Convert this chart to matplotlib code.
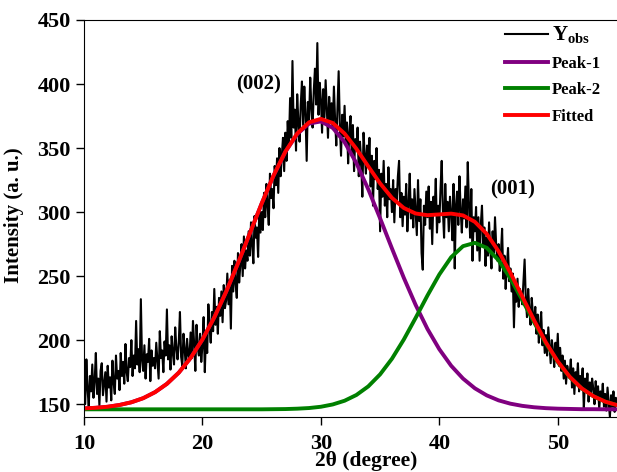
import numpy as np
import matplotlib
matplotlib.use("Agg")
from matplotlib import pyplot as plt

plt.rcParams['font.family'] = ['Liberation Serif', 'DejaVu Serif']
plt.rcParams['font.weight'] = 'bold'
plt.rcParams['mathtext.fontset'] = 'custom'
plt.rcParams['mathtext.rm'] = 'Liberation Serif:bold'
plt.rcParams['mathtext.bf'] = 'Liberation Serif:bold'

# observed pattern, 10.0 .. 55.0 step 0.1
obs_start, obs_step = 10.0, 0.1
y_obs = [
    178, 150, 185, 162, 148, 172, 160, 181, 155, 168,
    190, 158, 170, 149, 176, 182, 157, 166, 175, 152,
    180, 163, 171, 153, 184, 167, 158, 188, 170, 176,
    161, 190, 172, 183, 166, 197, 175, 168, 186, 179,
    200, 172, 188, 178, 215, 181, 193, 175, 232, 184,
    176, 196, 170, 189, 183, 201, 168, 192, 180, 186,
    178, 198, 184, 170, 207, 186, 192, 175, 199, 188,
    224, 185, 196, 177, 203, 190, 181, 210, 194, 185,
    198, 222, 187, 180, 205, 193, 178, 201, 189, 184,
    206, 186, 215, 197, 176, 212, 194, 188, 205, 183,
    196, 218, 175, 205, 190, 228, 210, 198, 222, 207,
    240, 212, 226, 205, 233, 219, 238, 214, 243, 225,
    231, 252, 228, 247, 209, 258, 238, 262, 244, 233,
    268, 245, 259, 275, 250, 281, 256, 270, 262, 285,
    266, 292, 274, 260, 297, 280, 288, 265, 302, 284,
    300, 286, 315, 296, 322, 305, 290, 330, 311, 318,
    303, 336, 321, 342, 315, 350, 328, 344, 358, 332,
    362, 340, 371, 352, 389, 358, 418, 366, 380, 348,
    392, 370, 355, 384, 402, 368, 398, 377, 340, 386,
    372, 405, 381, 366, 395, 412, 384, 432, 376, 401,
    388, 362, 396, 374, 403, 380, 358, 390, 371, 385,
    365, 398, 372, 352, 380, 410, 368, 344, 376, 359,
    383, 355, 370, 338, 362, 375, 346, 368, 332, 357,
    349, 366, 328, 355, 340, 312, 362, 345, 330, 352,
    336, 358, 320, 344, 305, 340, 326, 350, 318, 333,
    285, 330, 312, 340, 305, 322, 296, 335, 310, 318,
    300, 325, 292, 318, 308, 328, 340, 296, 315, 289,
    312, 298, 322, 285, 306, 330, 295, 310, 288, 318,
    300, 282, 325, 293, 310, 268, 255, 305, 290, 316,
    296, 320, 287, 308, 275, 312, 300, 326, 284, 305,
    292, 318, 340, 301, 280, 322, 296, 308, 285, 312,
    300, 278, 322, 256, 305, 316, 290, 328, 302, 284,
    310, 295, 320, 288, 339, 306, 280, 318, 262, 296,
    285, 304, 270, 296, 262, 290, 305, 275, 288, 258,
    280, 266, 292, 272, 256, 285, 268, 296, 274, 262,
    275, 254, 268, 287, 248, 266, 240, 258, 272, 246,
    256, 238, 252, 210, 244, 230, 248, 226, 240, 236,
    228, 245, 263, 232, 218, 240, 224, 212, 233, 220,
    214, 226, 205, 220, 198, 212, 222, 196, 208, 190,
    204, 188, 210, 196, 182, 200, 192, 179, 198, 186,
    205, 180, 194, 176, 188, 170, 184, 166, 180, 174,
    172, 185, 163, 178, 158, 175, 168, 182, 160, 172,
    165, 178, 146, 170, 160, 174, 152, 167, 158, 170,
    162, 150, 168, 155, 164, 146, 160, 153, 166, 148,
    158, 145, 163, 152, 140, 157, 148, 160, 144, 155,
    150,
]

# fitted components, 10 .. 55 step 1
fit_x = list(range(10, 56))
peak_1 = [146.7, 147.2, 148.0, 149.4, 151.5, 154.7, 159.4, 165.9, 174.6, 186.1,
          200.5, 217.8, 237.8, 260.0, 283.4, 306.7, 328.4, 347.0, 360.9, 369.1,
          370.8, 365.8, 354.6, 338.2, 317.8, 295.1, 271.6, 248.7, 227.5, 208.7,
          192.9, 180.0, 170.0, 162.4, 156.9, 153.0, 150.4, 148.7, 147.6, 146.9,
          146.5, 146.3, 146.1, 146.1, 146.0, 146.0]
peak_2 = [146.0, 146.0, 146.0, 146.0, 146.0, 146.0, 146.0, 146.0, 146.0, 146.0,
          146.0, 146.0, 146.0, 146.0, 146.0, 146.0, 146.1, 146.2, 146.5, 147.0,
          148.0, 149.8, 152.7, 157.2, 163.9, 173.3, 185.5, 200.5, 217.4, 234.9,
          251.3, 264.8, 273.4, 276.0, 272.1, 262.4, 248.2, 231.4, 213.9, 197.3,
          182.9, 171.2, 162.4, 156.2, 152.0, 149.3]
fitted = [146.7, 147.2, 148.0, 149.4, 151.5, 154.7, 159.4, 165.9, 174.6, 186.1,
          200.5, 217.8, 237.8, 260.0, 283.4, 306.7, 328.5, 347.2, 361.4, 370.1,
          372.8, 369.6, 361.3, 349.4, 335.7, 322.4, 311.1, 303.2, 298.9, 297.6,
          298.2, 298.8, 297.4, 292.4, 283.0, 269.4, 252.6, 234.1, 215.5, 198.2,
          183.4, 171.5, 162.5, 156.3, 152.0, 149.3]

x_ticks = [10, 20, 30, 40, 50]
y_ticks = [150, 200, 250, 300, 350, 400, 450]

obs_x = obs_start + obs_step * np.arange(len(y_obs))

fig = plt.figure(figsize=(6.17, 4.72), dpi=100)
ax = fig.add_axes([84 / 617, 1 - 417 / 472, 533 / 617, 397 / 472])

ax.plot(obs_x, y_obs, color='black', lw=1.5, label=r'Y$_{\mathbf{obs}}$')
ax.plot(fit_x, peak_1, color='#800080', lw=2.8, label='Peak-1')
ax.plot(fit_x, peak_2, color='#008000', lw=2.8, label='Peak-2')
ax.plot(fit_x, fitted, color='#ff0000', lw=2.8, label='Fitted')

ax.set_xlim(10, 55)
ax.set_ylim(140, 450)
ax.set_xticks(x_ticks)
ax.set_yticks(y_ticks)
ax.tick_params(labelsize=16, direction='out', length=6, width=1)
ax.tick_params(axis='x', pad=6)
ax.spines['right'].set_visible(False)

ax.set_xlabel('2θ (degree)', fontsize=15.5, fontweight='bold')
ax.set_ylabel('Intensity (a. u.)', fontsize=15, fontweight='bold')
ax.xaxis.set_label_coords(0.53, -0.086)
ax.yaxis.set_label_coords(-0.112, 0.509)

ax.text(24.7, 400, '(002)', fontsize=15, fontweight='bold', ha='center', va='center')
ax.text(46.2, 318, '(001)', fontsize=15, fontweight='bold', ha='center', va='center')

leg = ax.legend(loc='upper left', bbox_to_anchor=(505 / 617, 1 - 24 / 472),
                bbox_transform=fig.transFigure, frameon=False, fontsize=12,
                handlelength=2.6, handletextpad=0.2, labelspacing=0.62,
                borderpad=0, borderaxespad=0)
for t in leg.get_texts():
    t.set_fontweight('bold')
leg.get_texts()[0].set_fontsize(15)

fig.savefig('out.png', dpi=100)
